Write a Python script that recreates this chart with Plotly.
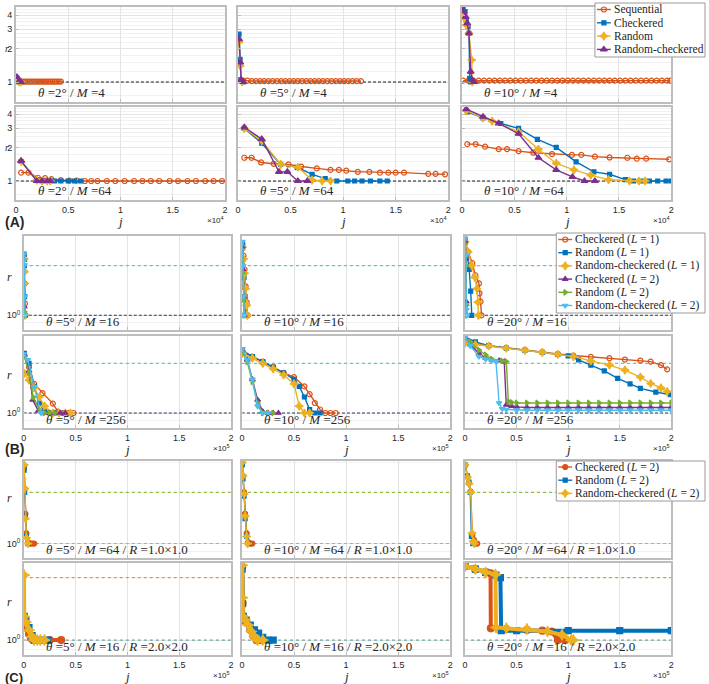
import plotly.graph_objects as go

W, H = 709, 684

ORANGE = "#D95319"; BLUE = "#0072BD"; YELLOW = "#EDB120"
PURPLE = "#7E2F8E"; GREEN = "#77AC30"; CYAN = "#4DBEEE"

# ======================= DATA =======================
# Panel A : x = j / 1e4 , y = r
A11_seq_x = [0.01,0.03,0.05,0.07,0.09,0.11,0.13,0.15,0.17,0.19,0.21,0.23,0.25,0.27,0.29,0.31,0.33,0.35,0.37,0.39,0.41,0.43]
A11_seq_r = [1.02,1.02,1.01,1.01,1.01,1.01,1.01,1.01,1.01,1.01,1.01,1.01,1.01,1.01,1.01,1.01,1.01,1.01,1.01,1.01,1.01,1.01]
A11_chk_x = [0.01,0.03,0.05]; A11_chk_r = [1.08,1.0,1.0]
A11_rnd_x = [0.01,0.03,0.05]; A11_rnd_r = [1.05,1.0,1.0]
A11_rch_x = [0.01,0.03,0.05]; A11_rch_r = [1.11,1.01,1.0]

A12_seq_x = [0.01,0.05,0.09,0.13,0.17,0.21,0.25,0.29,0.33,0.37,0.41,0.45,0.49,0.53,0.57,0.61,0.65,0.69,0.73,0.77,0.81,0.85,0.89,0.93,0.97,1.01,1.05,1.09,1.13,1.17]
A12_seq_r = [1.04,1.03,1.03,1.02,1.02,1.02,1.02,1.02,1.02,1.02,1.02,1.02,1.02,1.02,1.02,1.02,1.02,1.02,1.02,1.02,1.02,1.02,1.02,1.02,1.02,1.02,1.02,1.02,1.02,1.02]
A12_chk_x = [0.01,0.02,0.03,0.05]; A12_chk_r = [2.7,1.6,1.03,1.0]
A12_rnd_x = [0.01,0.02,0.04];      A12_rnd_r = [2.3,1.4,1.0]
A12_rch_x = [0.01,0.02,0.03,0.05]; A12_rch_r = [2.44,1.5,1.05,1.0]

A13_seq_x = [0.01,0.06,0.11,0.16,0.21,0.26,0.31,0.36,0.41,0.46,0.51,0.56,0.61,0.66,0.71,0.76,0.81,0.86,0.91,0.96,1.01,1.06,1.11,1.16,1.21,1.26,1.31,1.36,1.41,1.46,1.51,1.56,1.61,1.66,1.71,1.76,1.81,1.86,1.91,1.96,1.99]
A13_seq_r = [1.03,1.03,1.03,1.03,1.03,1.03,1.03,1.03,1.03,1.03,1.03,1.03,1.03,1.03,1.03,1.03,1.03,1.03,1.03,1.03,1.03,1.03,1.03,1.03,1.03,1.03,1.03,1.03,1.03,1.03,1.03,1.03,1.03,1.03,1.03,1.03,1.03,1.03,1.03,1.03,1.03]
A13_chk_x = [0.0095,0.0285,0.041,0.057,0.066,0.073,0.0825]; A13_chk_r = [4.77,4.3,3.6,3.15,2.75,1.08,1.0]
A13_rnd_x = [0.003,0.019,0.041,0.066,0.092,0.098];          A13_rnd_r = [4.0,3.75,3.26,2.75,1.58,1.0]
A13_rch_x = [0.0095,0.035,0.05,0.066,0.0825,0.098,0.114];   A13_rch_r = [4.36,3.87,3.38,2.75,1.24,1.04,1.0]

A21_seq_x = [0.05,0.12,0.21,0.28,0.34,0.43,0.51,0.58,0.66,0.72,0.78,0.87,0.95,1.04,1.13,1.21,1.29,1.37,1.47,1.55,1.64,1.72,1.81,1.89,1.97]
A21_seq_r = [1.19,1.19,1.07,1.06,1.04,1.02,1.01,1.01,1.0,1.0,1.0,1.0,1.0,1.0,1.0,1.0,1.0,1.0,1.0,1.0,1.0,1.0,1.0,1.0,1.0]
A21_chk_x = [0.05,0.2,0.25,0.3,0.37,0.43,0.5,0.56,0.62]; A21_chk_r = [1.5,1.02,1.0,1.0,1.0,1.0,1.0,1.0,1.0]
A21_rnd_x = [0.05,0.2,0.25,0.3,0.33];                   A21_rnd_r = [1.5,1.02,1.0,1.0,1.0]
A21_rch_x = [0.05,0.2,0.25,0.3,0.33];                   A21_rch_r = [1.52,1.0,1.0,1.0,1.0]

A22_seq_x = [0.06,0.13,0.22,0.34,0.48,0.6,0.75,0.88,0.96,1.03,1.14,1.25,1.35,1.43,1.5,1.58,1.81,1.88,1.97]
A22_seq_r = [1.62,1.62,1.47,1.43,1.41,1.35,1.30,1.26,1.26,1.24,1.21,1.21,1.19,1.19,1.19,1.19,1.16,1.16,1.15]
A22_chk_x = [0.06,0.226,0.406,0.563,0.705,0.83,0.94,1.045,1.11,1.18,1.26,1.35,1.42]
A22_chk_r = [2.98,2.19,1.41,1.33,1.15,1.05,1.0,1.0,1.0,1.0,1.0,1.0,1.0]
A22_rnd_x = [0.06,0.226,0.406,0.57,0.705,0.8,0.88]; A22_rnd_r = [2.98,2.31,1.41,1.33,1.02,1.0,1.0]
A22_rch_x = [0.06,0.226,0.39,0.47,0.57,0.66];       A22_rch_r = [3.05,2.39,1.21,1.21,1.0,1.0]

A23_seq_x = [0.05,0.13,0.22,0.35,0.43,0.54,0.68,0.86,1.05,1.14,1.27,1.41,1.58,1.67,1.76,1.98]
A23_seq_r = [2.15,2.15,2.04,1.94,1.94,1.86,1.80,1.75,1.72,1.72,1.66,1.63,1.62,1.59,1.59,1.57]
A23_chk_x = [0.05,0.2,0.37,0.54,0.72,0.9,1.09,1.26,1.41,1.56,1.64,1.72,1.79,1.87,1.95,2.0]
A23_chk_r = [4.2,3.7,3.3,2.98,2.37,2.01,1.49,1.21,1.15,1.03,1.0,1.0,1.0,1.0,1.0,1.0]
A23_rnd_x = [0.04,0.2,0.287,0.54,0.73,0.9,1.07,1.23,1.4,1.6,1.69,1.75]
A23_rnd_r = [4.3,3.7,3.47,2.78,1.93,1.44,1.26,1.13,1.03,1.0,1.0,1.0]
A23_rch_x = [0.04,0.2,0.35,0.54,0.73,0.9,1.055,1.17,1.27]
A23_rch_r = [4.45,3.8,3.31,2.67,1.62,1.26,1.09,1.0,1.0]

# Panel B : x = j / 1e5 , y = r
B11 = {
    "c1": ([0.002,0.005,0.008,0.011,0.014], [2.3,1.84,1.56,1.18,1.0]),
    "r1": ([0.002,0.005,0.008,0.012], [2.35,2.0,1.3,1.0]),
    "rc1": ([0.002,0.005,0.008,0.012], [2.2,1.84,1.56,1.0]),
    "c2": ([0.002,0.005,0.009], [2.16,1.13,1.0]),
    "r2": ([0.002,0.005,0.009], [2.16,1.05,1.0]),
    "rc2": ([0.002,0.004,0.006,0.009,0.012], [2.35,2.16,2.02,1.3,1.0]),
}
B12 = {
    "c1": ([0.005,0.015,0.025,0.035,0.045,0.055], [2.7,2.3,1.9,1.5,1.2,1.0]),
    "r1": ([0.005,0.012,0.02,0.03,0.04], [2.75,2.2,1.7,1.3,1.0]),
    "rc1": ([0.005,0.015,0.025,0.035,0.045,0.05], [2.6,2.2,1.8,1.45,1.15,1.0]),
    "c2": ([0.004,0.01,0.016,0.022], [2.6,1.9,1.3,1.0]),
    "r2": ([0.004,0.01,0.016,0.022], [2.5,1.8,1.25,1.0]),
    "rc2": ([0.004,0.01,0.016,0.022], [2.8,2.0,1.3,1.0]),
}
B13 = {
    "c1": ([0.0,0.03,0.07,0.10,0.135,0.14,0.15,0.16], [2.85,2.43,2.07,1.75,1.56,1.36,1.21,1.0]),
    "r1": ([0.0,0.02,0.04,0.055,0.065], [2.9,2.3,1.9,1.4,1.0]),
    "rc1": ([0.0,0.03,0.065,0.095,0.115,0.125,0.13], [2.8,2.43,2.0,1.7,1.45,1.2,1.0]),
    "c2": ([0.0,0.008,0.012,0.016], [2.8,2.2,1.21,1.0]),
    "r2": ([0.0,0.01,0.014,0.018], [2.7,2.0,1.15,1.0]),
    "rc2": ([0.0,0.008,0.012,0.016], [2.9,2.3,1.08,1.0]),
}
B21 = {
    "c1": ([0.005,0.05,0.1,0.18,0.28,0.33,0.38,0.43,0.48], [2.24,1.9,1.5,1.32,1.14,1.02,1.0,1.0,1.0]),
    "r1": ([0.005,0.05,0.1,0.15,0.2,0.25,0.3,0.35], [2.3,2.0,1.45,1.15,1.02,1.0,1.0,1.0]),
    "rc1": ([0.005,0.05,0.1,0.15,0.2,0.28,0.34,0.4,0.45], [1.74,1.58,1.42,1.25,1.1,1.0,1.0,1.0,1.0]),
    "c2": ([0.005,0.05,0.086,0.14,0.2,0.25,0.3,0.35,0.4], [2.25,1.8,1.2,1.03,1.0,1.0,1.0,1.0,1.0]),
    "r2": ([0.005,0.05,0.09,0.15,0.2,0.25,0.3], [2.2,1.75,1.25,1.05,1.0,1.0,1.0]),
    "rc2": ([0.0,0.038,0.1,0.166], [2.28,2.1,1.44,1.0]),
}
B22 = {
    "c1": ([0.005,0.1,0.2,0.3,0.4,0.5,0.6,0.65,0.7,0.75,0.8,0.85,0.9], [2.35,2.2,2.05,1.9,1.75,1.65,1.45,1.3,1.15,1.05,1.0,1.0,1.0]),
    "r1": ([0.005,0.1,0.2,0.3,0.4,0.5,0.55,0.6,0.65,0.7,0.75], [2.4,2.2,2.05,1.9,1.75,1.6,1.45,1.25,1.05,1.0,1.0]),
    "rc1": ([0.005,0.1,0.2,0.3,0.4,0.5,0.55,0.6,0.65], [2.3,2.15,2.0,1.85,1.7,1.5,1.1,1.0,1.0]),
    "c2": ([0.005,0.05,0.1,0.15,0.2,0.25,0.3,0.35], [2.4,2.1,1.6,1.2,1.02,1.0,1.0,1.0]),
    "r2": ([0.005,0.05,0.1,0.15,0.2,0.25,0.3], [2.35,2.05,1.55,1.15,1.0,1.0,1.0]),
    "rc2": ([0.005,0.05,0.1,0.15,0.2,0.25], [2.45,2.1,1.6,1.1,1.0,1.0]),
}
B23 = {
    "c1": ([0.0,0.1,0.23,0.4,0.58,0.75,0.9,1.05,1.22,1.4,1.55,1.7,1.8,1.9,1.96],
           [2.77,2.65,2.56,2.48,2.41,2.34,2.28,2.23,2.19,2.15,2.11,2.08,2.05,1.95,1.84]),
    "r1": ([0.0,0.1,0.23,0.4,0.58,0.75,0.9,1.0,1.1,1.22,1.35,1.48,1.6,1.7,1.85,1.99],
           [2.9,2.7,2.56,2.47,2.4,2.33,2.27,2.22,2.1,1.95,1.8,1.62,1.5,1.41,1.34,1.29]),
    "rc1": ([0.0,0.1,0.23,0.4,0.58,0.75,0.9,1.05,1.22,1.4,1.55,1.7,1.8,1.9,1.96],
            [2.65,2.6,2.55,2.47,2.4,2.33,2.27,2.2,2.07,1.95,1.82,1.65,1.51,1.42,1.35]),
    "c2": ([0.0,0.05,0.135,0.2,0.26,0.33,0.38,0.4,0.45,0.5,0.6,0.7,0.8,0.9,1.0,1.1,1.2,1.3,1.4,1.5,1.6,1.7,1.8,1.9,2.0],
           [2.85,2.6,2.3,2.15,2.1,2.08,2.05,1.12,1.1,1.09,1.08,1.08,1.08,1.08,1.08,1.08,1.08,1.08,1.08,1.08,1.08,1.08,1.08,1.08,1.08]),
    "r2": ([0.0,0.05,0.135,0.2,0.26,0.36,0.4,0.42,0.45,0.5,0.6,0.7,0.8,0.9,1.0,1.1,1.2,1.3,1.4,1.5,1.6,1.7,1.8,1.9,2.0],
           [2.88,2.7,2.41,2.25,2.12,2.07,2.05,1.17,1.16,1.15,1.15,1.15,1.15,1.15,1.15,1.15,1.15,1.15,1.15,1.15,1.15,1.15,1.15,1.15,1.15]),
    "rc2": ([0.0,0.05,0.135,0.2,0.26,0.3,0.33,0.36,0.4,0.5,0.6,0.7,0.8,0.9,1.0,1.1,1.2,1.3,1.4,1.5,1.6,1.7,1.8,1.9,2.0],
            [2.9,2.55,2.2,2.12,2.08,2.05,1.15,1.06,1.05,1.04,1.04,1.04,1.04,1.04,1.04,1.04,1.04,1.04,1.04,1.04,1.04,1.04,1.04,1.04,1.04]),
}

# Panel C : x = j / 1e5 , y = r
C11 = {
    "ck": ([0.003,0.008,0.015,0.025,0.04,0.06,0.08,0.1], [2.8,2.1,1.5,1.15,1.02,1.0,1.0,1.0]),
    "rd": ([0.003,0.008,0.015,0.025,0.04], [2.7,2.0,1.45,1.1,1.0]),
    "rc": ([0.003,0.008,0.015,0.025,0.04], [2.9,2.1,1.4,1.08,1.0]),
}
C12 = {
    "ck": ([0.003,0.01,0.02,0.03,0.045,0.06,0.08,0.1], [2.95,2.5,2.0,1.5,1.15,1.02,1.0,1.0]),
    "rd": ([0.003,0.01,0.02,0.03,0.045,0.06], [2.9,2.4,1.9,1.4,1.1,1.0]),
    "rc": ([0.003,0.01,0.02,0.03,0.045,0.055], [3.0,2.5,1.95,1.45,1.1,1.0]),
}
C13 = {
    "ck": ([0.0,0.022,0.038,0.055,0.07,0.087,0.1,0.118], [2.9,2.47,2.26,2.02,1.12,1.05,1.0,1.0]),
    "rd": ([0.0,0.022,0.038,0.05,0.062,0.075], [2.9,2.5,2.3,2.0,1.1,1.0]),
    "rc": ([0.0,0.022,0.038,0.055,0.068,0.08,0.09], [2.9,2.45,2.25,2.0,1.15,1.03,1.0]),
}
C21 = {
    "ck": ([0.004,0.02,0.05,0.07,0.09,0.15,0.25,0.36], [1.2,1.15,1.07,1.02,1.0,1.0,1.0,1.0]),
    "rd": ([0.004,0.02,0.05,0.08,0.1,0.13,0.17,0.23], [1.3,1.25,1.15,1.05,1.0,1.0,1.0,1.0]),
    "rc": ([0.002,0.004,0.02,0.05,0.08,0.1,0.13,0.16,0.2], [2.06,1.3,1.22,1.12,1.04,1.0,1.0,1.0,1.0]),
}
C22 = {
    "ck": ([0.002,0.006,0.012,0.04,0.08,0.11,0.14,0.18], [2.25,1.5,1.3,1.22,1.12,1.05,1.0,1.0]),
    "rd": ([0.002,0.006,0.012,0.04,0.08,0.12,0.16,0.2,0.25,0.3], [2.2,1.5,1.3,1.25,1.18,1.12,1.08,1.03,1.0,1.0]),
    "rc": ([0.002,0.005,0.01,0.03,0.06,0.09,0.12,0.15,0.2], [2.3,1.6,1.3,1.25,1.18,1.1,1.04,1.0,1.0]),
}
C23 = {
    "ck": ([0.0,0.1,0.2,0.247,0.25,0.4,0.6,0.75,0.84,0.9,0.97], [2.28,2.2,2.12,2.1,1.14,1.13,1.12,1.11,1.10,1.0,1.0]),
    "rd": ([0.0,0.1,0.2,0.3,0.343,0.35,0.5,1.0,1.5,2.0], [2.28,2.2,2.12,2.06,2.0,1.11,1.11,1.11,1.11,1.11]),
    "rc": ([0.0,0.1,0.2,0.295,0.3,0.4,0.6,0.8,0.94,1.03,1.05], [2.28,2.2,2.12,2.07,1.15,1.14,1.13,1.1,1.06,1.0,1.0]),
}

ref_level = 1.0      # r = 1 reference
upper_level = 2.0    # upper dotted reference (B, C)

A_thetas = ["2", "5", "10"]; A_Ms = ["4", "64"]
B_thetas = ["5", "10", "20"]; B_Ms = ["16", "256"]
C_thetas = ["5", "10", "20"]; C_Ms = ["64", "16"]; C_Rs = ["1.0×1.0", "2.0×2.0"]

A_names = {"seq": "Sequential", "chk": "Checkered", "rnd": "Random", "rch": "Random-checkered"}
B_names = {"c1": "Checkered (<i>L</i> = 1)", "r1": "Random (<i>L</i> = 1)", "rc1": "Random-checkered (<i>L</i> = 1)",
           "c2": "Checkered (<i>L</i> = 2)", "r2": "Random (<i>L</i> = 2)", "rc2": "Random-checkered (<i>L</i> = 2)"}
C_names = {"ck": "Checkered (<i>L</i> = 2)", "rd": "Random (<i>L</i> = 2)", "rc": "Random-checkered (<i>L</i> = 2)"}

# ======================= STYLES =======================
STY = {
    "seq": dict(color=ORANGE, symbol="circle-open", size=5),
    "chk": dict(color=BLUE, symbol="square", size=4),
    "rnd": dict(color=YELLOW, symbol="star-diamond", size=6),
    "rch": dict(color=PURPLE, symbol="triangle-up", size=6),
    "c1": dict(color=ORANGE, symbol="circle-open", size=5),
    "r1": dict(color=BLUE, symbol="square", size=4),
    "rc1": dict(color=YELLOW, symbol="star-diamond", size=6),
    "c2": dict(color=PURPLE, symbol="triangle-up", size=5),
    "r2": dict(color=GREEN, symbol="triangle-right", size=5),
    "rc2": dict(color=CYAN, symbol="triangle-down", size=5),
    "ck": dict(color=ORANGE, symbol="circle", size=5),
    "rd": dict(color=BLUE, symbol="square", size=4),
    "rc": dict(color=YELLOW, symbol="star-diamond", size=6),
}

SERIF = "Liberation Serif"
SANS = "Liberation Sans"
TXT = "#262626"

# pixel boxes (left, right) / (top, bottom)
A_cols = [(13, 224), (237, 449), (463, 674)]
A_rows = [(7, 102), (107, 200)]
BC_cols = [(21, 230), (241, 451), (466, 674)]
B_rows = [(236, 330), (336, 428)]
C_rows = [(461, 558), (563, 655)]

A_yr = [[-0.180, 0.676], [-0.171, 0.667]]
B_yr = [[-0.089, 0.481], [-0.091, 0.467]]
C_yr = [[-0.085, 0.485], [-0.072, 0.372]]

fig = go.Figure()
layout = dict(width=W, height=H, margin=dict(l=0, r=0, t=0, b=0), autosize=False,
              paper_bgcolor="white", plot_bgcolor="rgba(0,0,0,0)", showlegend=False)
annotations = []


def P(x, y):
    return x / W, 1 - y / H


def add_text(x, y, text, size=13, family=SERIF, xanchor="left", yanchor="middle", color=TXT):
    px, py = P(x, y)
    annotations.append(dict(x=px, y=py, xref="paper", yref="paper", text=text, showarrow=False,
                            xanchor=xanchor, yanchor=yanchor,
                            font=dict(family=family, size=size, color=color)))


def add_panel(idx, xcol, yrow, yr, series, label, group, bottom, left, thick=False,
              ref_colors=("#1a1a1a", None)):
    xs = "x" if idx == 1 else f"x{idx}"
    ys = "y" if idx == 1 else f"y{idx}"
    xa = "xaxis" if idx == 1 else f"xaxis{idx}"
    ya = "yaxis" if idx == 1 else f"yaxis{idx}"
    common = dict(showline=True, mirror=True, linecolor="#bdbdbd", linewidth=1.6,
                  showgrid=True, gridcolor="#e4e4e4", gridwidth=1, zeroline=False,
                  ticks="inside", ticklen=3, tickcolor="#bdbdbd",
                  tickfont=dict(family=SANS, size=9, color=TXT))
    layout[xa] = dict(common, domain=[xcol[0] / W, xcol[1] / W], range=[0, 2],
                      tickvals=[0, 0.5, 1, 1.5, 2], ticktext=["0", "0.5", "1", "1.5", "2"],
                      showticklabels=bottom, anchor=ys)
    if group == "A":
        yt = dict(tickvals=[1, 2, 3, 4], ticktext=["1", "2", "3", "4"], ticklabelstandoff=0)
        minor = [0.75, 1.25, 1.5, 1.75, 2.25, 2.5, 2.75, 3.25, 3.5, 3.75, 4.25, 4.5]
    else:
        yt = dict(tickvals=[1], ticktext=["10<sup>0</sup>"])
        minor = [0.9, 2, 3]
    layout[ya] = dict(common, **yt, type="log", domain=[1 - yrow[1] / H, 1 - yrow[0] / H],
                      range=yr, showticklabels=left, anchor=xs,
                      minor=dict(tickvals=minor, showgrid=True, gridcolor="#f1f1f1", gridwidth=1,
                                 ticks=""))
    # reference lines
    if ref_colors[1] is not None:
        fig.add_trace(go.Scatter(x=[0, 2], y=[upper_level, upper_level], mode="lines",
                                 line=dict(color=ref_colors[1], width=1.2, dash="dot"),
                                 xaxis=xs, yaxis=ys, hoverinfo="skip"))
    fig.add_trace(go.Scatter(x=[0, 2], y=[ref_level, ref_level], mode="lines",
                             line=dict(color=ref_colors[0], width=1.1,
                                       dash="3px,2px" if group != "C" else "dot"),
                             xaxis=xs, yaxis=ys, hoverinfo="skip"))
    for key, x, r in series:
        st = STY[key]
        fig.add_trace(go.Scatter(
            x=x, y=r, mode="lines+markers",
            line=dict(color=st["color"], width=4.0 if thick else 1.4),
            marker=dict(symbol=st["symbol"], size=st["size"] + (2 if thick else 0), color=st["color"],
                        line=dict(width=1.2, color=st["color"])),
            xaxis=xs, yaxis=ys, hoverinfo="skip"))
    add_text(xcol[0] + 20, yrow[1] - 9, label, size=13)
    if bottom:
        add_text((xcol[0] + xcol[1]) / 2, yrow[1] + 21, "<i>j</i>", size=13, xanchor="center")
        add_text(xcol[1] + 1, yrow[1] + 20, "×10<sup>%s</sup>" % ("4" if group == "A" else "5"),
                 size=8, family=SANS, xanchor="right")


idx = 1
A_sets = [
    [[("seq", A11_seq_x, A11_seq_r), ("chk", A11_chk_x, A11_chk_r), ("rnd", A11_rnd_x, A11_rnd_r), ("rch", A11_rch_x, A11_rch_r)],
     [("seq", A12_seq_x, A12_seq_r), ("chk", A12_chk_x, A12_chk_r), ("rnd", A12_rnd_x, A12_rnd_r), ("rch", A12_rch_x, A12_rch_r)],
     [("seq", A13_seq_x, A13_seq_r), ("chk", A13_chk_x, A13_chk_r), ("rnd", A13_rnd_x, A13_rnd_r), ("rch", A13_rch_x, A13_rch_r)]],
    [[("seq", A21_seq_x, A21_seq_r), ("chk", A21_chk_x, A21_chk_r), ("rnd", A21_rnd_x, A21_rnd_r), ("rch", A21_rch_x, A21_rch_r)],
     [("seq", A22_seq_x, A22_seq_r), ("chk", A22_chk_x, A22_chk_r), ("rnd", A22_rnd_x, A22_rnd_r), ("rch", A22_rch_x, A22_rch_r)],
     [("seq", A23_seq_x, A23_seq_r), ("chk", A23_chk_x, A23_chk_r), ("rnd", A23_rnd_x, A23_rnd_r), ("rch", A23_rch_x, A23_rch_r)]],
]
for ri in range(2):
    for ci in range(3):
        lab = "<i>θ</i> =%s° / <i>M</i> =%s" % (A_thetas[ci], A_Ms[ri])
        add_panel(idx, A_cols[ci], A_rows[ri], A_yr[ri], A_sets[ri][ci], lab, "A",
                  bottom=(ri == 1), left=(ci == 0))
        idx += 1

B_sets = [[B11, B12, B13], [B21, B22, B23]]
for ri in range(2):
    for ci in range(3):
        d = B_sets[ri][ci]
        ser = [(k, d[k][0], d[k][1]) for k in ["c1", "r1", "rc1", "c2", "r2", "rc2"]]
        lab = "<i>θ</i> =%s° / <i>M</i> =%s" % (B_thetas[ci], B_Ms[ri])
        add_panel(idx, BC_cols[ci], B_rows[ri], B_yr[ri], ser, lab, "B",
                  bottom=(ri == 1), left=(ci == 0), ref_colors=("#2b3a55", "#5ec8c8"))
        idx += 1

C_sets = [[C11, C12, C13], [C21, C22, C23]]
for ri in range(2):
    for ci in range(3):
        d = C_sets[ri][ci]
        ser = [(k, d[k][0], d[k][1]) for k in ["ck", "rd", "rc"]]
        lab = "<i>θ</i> =%s° / <i>M</i> =%s / <i>R</i> =%s" % (C_thetas[ci], C_Ms[ri], C_Rs[ri])
        refc = ("#d8b020", "#8fbf3a") if ri == 0 else ("#6aa6a0", "#d9a030")
        add_panel(idx, BC_cols[ci], C_rows[ri], C_yr[ri], ser, lab, "C",
                  bottom=(ri == 1), left=(ci == 0), thick=(ri == 1), ref_colors=refc)
        idx += 1

# y-axis labels "r" (in panel A they sit just left of tick "2")
for yy, xx, fs in [(48, 0, 10), (148, 0, 10), (277, 2, 12), (375, 2, 12), (498, 2, 12), (602, 2, 12)]:
    add_text(xx, yy, "<i>r</i>", size=fs)

# panel letters
add_text(0, 222, "<b>(A)</b>", size=14, family=SANS)
add_text(0, 449, "<b>(B)</b>", size=14, family=SANS)
add_text(0, 677, "<b>(C)</b>", size=13, family=SANS)

# ---------------- legends (overlay axis in pixel units) ----------------
OV = 19
layout["xaxis%d" % OV] = dict(domain=[0, 1], range=[0, W], visible=False, fixedrange=True, anchor="y%d" % OV)
layout["yaxis%d" % OV] = dict(domain=[0, 1], range=[H, 0], visible=False, fixedrange=True, anchor="x%d" % OV)


def add_legend(box, keys, names, y0, dy, fsize=11.5):
    l, t, r, b = box
    fig.add_trace(go.Scatter(x=[l, r, r, l, l], y=[t, t, b, b, t], mode="lines", fill="toself",
                             fillcolor="white", line=dict(color="#9a9a9a", width=1),
                             xaxis="x%d" % OV, yaxis="y%d" % OV, hoverinfo="skip"))
    for i, k in enumerate(keys):
        st = STY[k]
        yc = y0 + i * dy
        fig.add_trace(go.Scatter(x=[l + 2, l + 9, l + 16], y=[yc, yc, yc], mode="lines+markers",
                                 line=dict(color=st["color"], width=1.4),
                                 marker=dict(symbol=st["symbol"], size=[st["size"]] * 3, opacity=[0, 1, 0],
                                             color=st["color"], line=dict(width=1.2, color=st["color"])),
                                 xaxis="x%d" % OV, yaxis="y%d" % OV, hoverinfo="skip"))
        add_text(l + 17, yc, names[k], size=fsize)


add_legend((597, 3, 708, 57), ["seq", "chk", "rnd", "rch"], A_names, 9.5, 13.3)
add_legend((558, 233, 708, 313), ["c1", "r1", "rc1", "c2", "r2", "rc2"], B_names, 239.5, 13.2)
add_legend((558, 461, 708, 501), ["ck", "rd", "rc"], C_names, 467, 13.2)

layout["annotations"] = annotations
fig.update_layout(**layout)
fig.write_html("out.html", config={"displayModeBar": False},
               post_script="document.body.style.margin='0';document.body.style.overflow='hidden';")
